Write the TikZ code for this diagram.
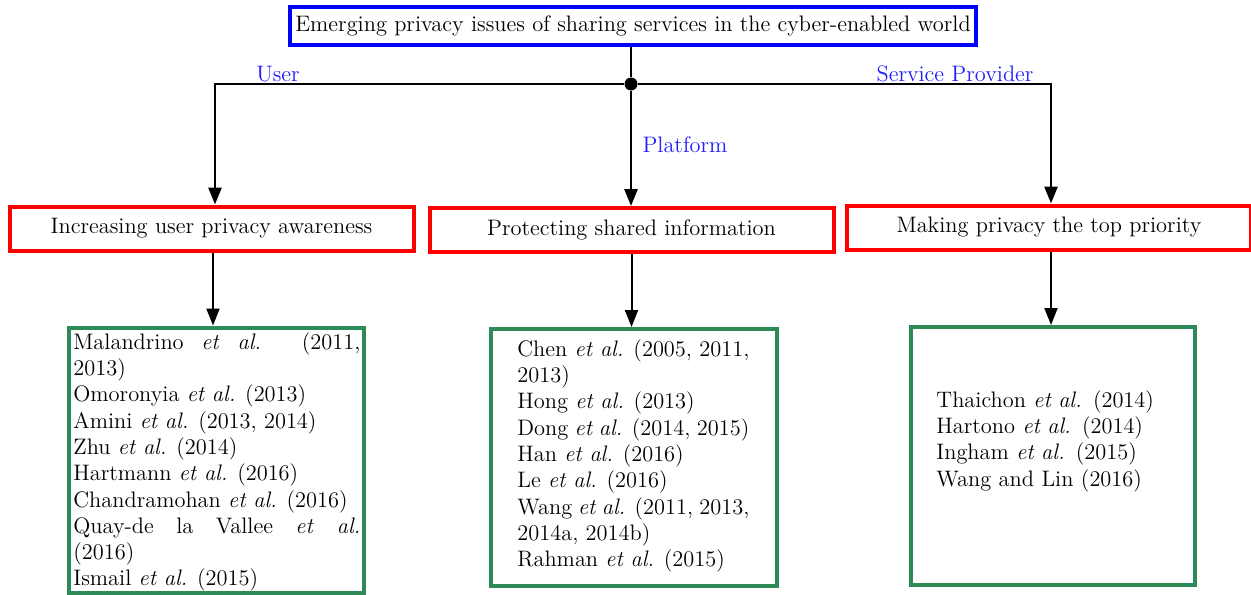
\documentclass[tikz,border=0pt]{standalone}
\usetikzlibrary{arrows.meta,calc}
\definecolor{boxgreen}{RGB}{46,139,87}
\definecolor{lblblue}{RGB}{30,30,255}
\begin{document}
\begin{tikzpicture}[x=0.5pt,y=-0.5pt,
  every node/.style={font=\fontsize{11.2}{13.15}\selectfont},
  topbox/.style={draw=blue,line width=2pt,minimum width=343pt,minimum height=19pt,inner sep=0pt},
  redbox/.style={draw=red,line width=2pt,minimum width=202pt,minimum height=22pt,inner sep=0pt},
  greenbox/.style={draw=boxgreen,line width=2pt,inner sep=0pt},
  reftext/.style={anchor=north west,inner sep=0pt,align=justify},
  lbl/.style={text=lblblue,inner sep=0pt},
  conn/.style={line width=1.4pt},
  arr/.style={conn,-{Triangle[length=8.5pt,width=6.5pt]}},
  arrlow/.style={line width=1pt,-{Triangle[length=8.5pt,width=6.5pt]}}]
\useasboundingbox (0,0) rectangle (1251,594);
\node[topbox] (top) at (633,25.5) {Emerging privacy issues of sharing services in the cyber-enabled world};
\node[circle,fill=black,inner sep=0pt,minimum size=6.5pt] (dot) at (631,84) {};
\node[redbox] (r1) at (211.5,228.5) {Increasing user privacy awareness};
\node[redbox] (r2) at (631.5,230) {Protecting shared information};
\node[redbox] (r3) at (1049,227.5) {Making privacy the top priority};
\node[greenbox,minimum width=147.5pt,minimum height=132.5pt] (g1) at (216.5,460) {};
\node[greenbox,minimum width=143pt,minimum height=128.5pt] (g2) at (634,457.5) {};
\node[greenbox,minimum width=142pt,minimum height=129pt] (g3) at (1053,456) {};
\node[lbl] (lu) at (278,74) {User};
\node[lbl] (ls) at (955,74) {Service Provider};
\node[lbl] (lp) at (685,145) {Platform};
\draw[conn] (top.south -| dot) -- (dot);
\draw[arr] (dot) -| ([xshift=1.75pt]r1.north);
\draw[arr] (dot) -| ([xshift=1pt]r3.north);
\draw[arr] (dot) -- (dot |- r2.north);
\draw[arrlow] ([xshift=0.75pt]r1.south) -- ([xshift=0.75pt]r1.south |- g1.north);
\draw[arrlow] (r2.south) -- (r2.south |- g2.north);
\draw[arrlow] ([xshift=1pt]r3.south) -- ([xshift=1pt]r3.south |- g3.north);
\node[reftext,text width=143.5pt] (t1) at (73,332) {Malandrino \textit{et al.} (2011,\linebreak 2013)\\
Omoronyia \textit{et al.} (2013)\\
Amini \textit{et al.} (2013, 2014)\\
Zhu \textit{et al.} (2014)\\
Hartmann \textit{et al.} (2016)\\
Chandramohan \textit{et al.} (2016)\\
Quay-de la Vallee \textit{et al.}\linebreak (2016)\\
Ismail \textit{et al.} (2015)};
\node[reftext,text width=116pt] (t2) at (517,339) {Chen \textit{et al.} (2005, 2011, 2013)\\
Hong \textit{et al.} (2013)\\
Dong \textit{et al.} (2014, 2015)\\
Han \textit{et al.} (2016)\\
Le \textit{et al.} (2016)\\
Wang \textit{et al.} (2011, 2013, 2014a, 2014b)\\
Rahman \textit{et al.} (2015)};
\node[reftext,text width=120pt,align=left] (t3) at (936,390) {Thaichon \textit{et al.} (2014)\\
Hartono \textit{et al.} (2014)\\
Ingham \textit{et al.} (2015)\\
Wang and Lin (2016)};
\end{tikzpicture}
\end{document}
